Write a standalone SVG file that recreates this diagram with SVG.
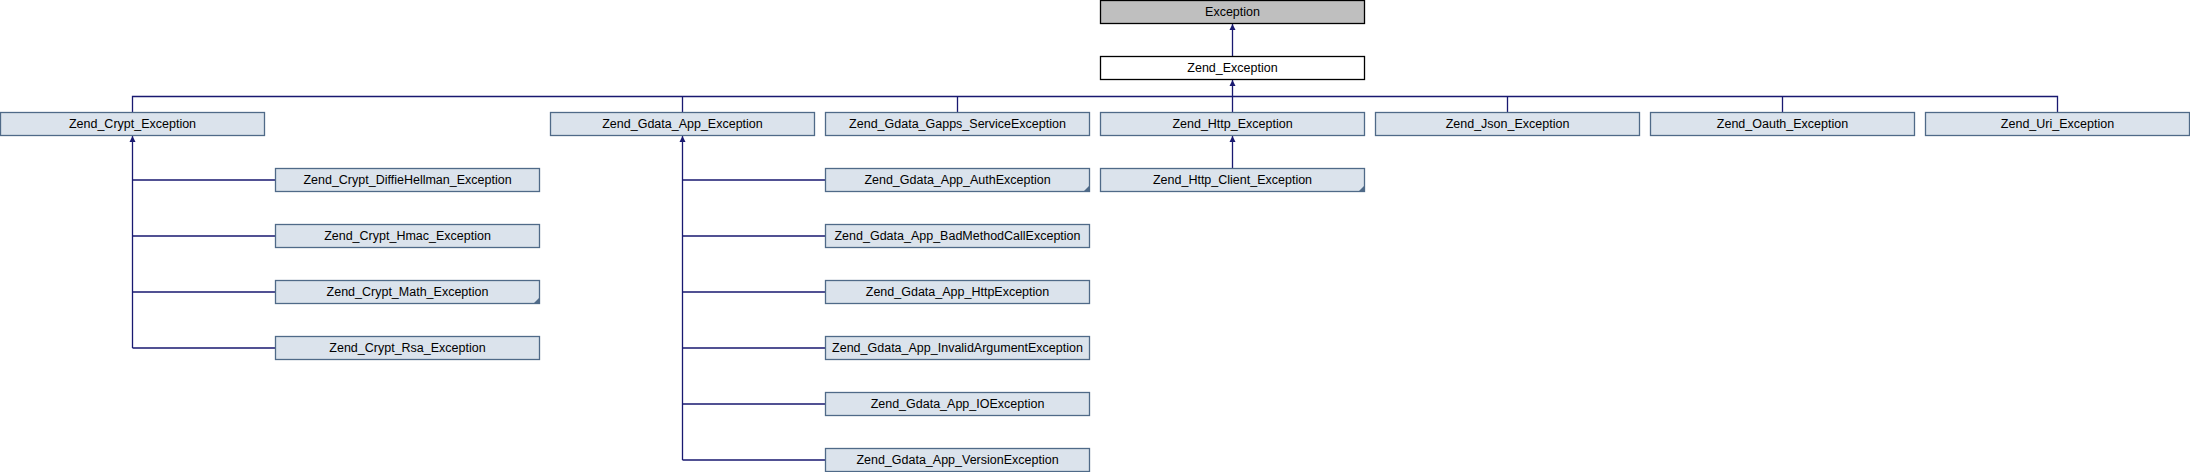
<svg xmlns="http://www.w3.org/2000/svg" width="2190" height="472" viewBox="0 0 2190 472">
<defs>
<style>
.n rect{fill:#dbe3ec;stroke:#4f6a88;stroke-width:1.3}
.n text{font-family:"Liberation Sans",Arial,sans-serif;font-size:12.5px;fill:#000;text-anchor:middle}
.n polygon{fill:#4f6a88}
#exception rect{fill:#bfbfbf;stroke:#000}
#zend_exception rect{fill:#fff;stroke:#000}
#edges path{fill:none;stroke:#191970;stroke-width:1.3}
</style>
<marker id="ah" viewBox="0 0 10 10" refX="10" refY="5" markerWidth="6" markerHeight="7" markerUnits="userSpaceOnUse" orient="auto">
<path d="M0,0 L10,5 L0,10 z" fill="#191970"/>
</marker>
</defs>
<rect width="2190" height="472" fill="#fff"/>
<g id="edges">
<path d="M1232.5,56.5 V24" marker-end="url(#ah)"/>
<path d="M1232.5,112.5 V80" marker-end="url(#ah)"/>
<path d="M132.5,112.5 V96.5 H2057.5 V112.5"/>
<path d="M682.5,96.5 V112.5 M957.5,96.5 V112.5 M1507.5,96.5 V112.5 M1782.5,96.5 V112.5"/>
<path d="M1232.5,168.5 V136" marker-end="url(#ah)"/>
<path d="M132.5,348 V136" marker-end="url(#ah)"/>
<path d="M132.5,180 H275.5 M132.5,236 H275.5 M132.5,292 H275.5 M132.5,348 H275.5"/>
<path d="M682.5,460 V136" marker-end="url(#ah)"/>
<path d="M682.5,180 H825.5 M682.5,236 H825.5 M682.5,292 H825.5 M682.5,348 H825.5 M682.5,404 H825.5 M682.5,460 H825.5"/>
</g>
<g id="exception" class="n"><rect x="1100.5" y="0.5" width="264" height="23"/><text x="1232.5" y="16">Exception</text></g>
<g id="zend_exception" class="n"><rect x="1100.5" y="56.5" width="264" height="23"/><text x="1232.5" y="72">Zend_Exception</text></g>
<g id="zend_crypt_exception" class="n"><rect x="0.5" y="112.5" width="264" height="23"/><text x="132.5" y="128">Zend_Crypt_Exception</text></g>
<g id="zend_gdata_app_exception" class="n"><rect x="550.5" y="112.5" width="264" height="23"/><text x="682.5" y="128">Zend_Gdata_App_Exception</text></g>
<g id="zend_gdata_gapps_serviceexception" class="n"><rect x="825.5" y="112.5" width="264" height="23"/><text x="957.5" y="128">Zend_Gdata_Gapps_ServiceException</text></g>
<g id="zend_http_exception" class="n"><rect x="1100.5" y="112.5" width="264" height="23"/><text x="1232.5" y="128">Zend_Http_Exception</text></g>
<g id="zend_json_exception" class="n"><rect x="1375.5" y="112.5" width="264" height="23"/><text x="1507.5" y="128">Zend_Json_Exception</text></g>
<g id="zend_oauth_exception" class="n"><rect x="1650.5" y="112.5" width="264" height="23"/><text x="1782.5" y="128">Zend_Oauth_Exception</text></g>
<g id="zend_uri_exception" class="n"><rect x="1925.5" y="112.5" width="264" height="23"/><text x="2057.5" y="128">Zend_Uri_Exception</text></g>
<g id="zend_crypt_diffiehellman_exception" class="n"><rect x="275.5" y="168.5" width="264" height="23"/><text x="407.5" y="184">Zend_Crypt_DiffieHellman_Exception</text></g>
<g id="zend_crypt_hmac_exception" class="n"><rect x="275.5" y="224.5" width="264" height="23"/><text x="407.5" y="240">Zend_Crypt_Hmac_Exception</text></g>
<g id="zend_crypt_math_exception" class="n"><rect x="275.5" y="280.5" width="264" height="23"/><text x="407.5" y="296">Zend_Crypt_Math_Exception</text><polygon points="539.5,297.5 539.5,303.5 533.5,303.5"/></g>
<g id="zend_crypt_rsa_exception" class="n"><rect x="275.5" y="336.5" width="264" height="23"/><text x="407.5" y="352">Zend_Crypt_Rsa_Exception</text></g>
<g id="zend_gdata_app_authexception" class="n"><rect x="825.5" y="168.5" width="264" height="23"/><text x="957.5" y="184">Zend_Gdata_App_AuthException</text><polygon points="1089.5,185.5 1089.5,191.5 1083.5,191.5"/></g>
<g id="zend_gdata_app_badmethodcallexception" class="n"><rect x="825.5" y="224.5" width="264" height="23"/><text x="957.5" y="240">Zend_Gdata_App_BadMethodCallException</text></g>
<g id="zend_gdata_app_httpexception" class="n"><rect x="825.5" y="280.5" width="264" height="23"/><text x="957.5" y="296">Zend_Gdata_App_HttpException</text></g>
<g id="zend_gdata_app_invalidargumentexception" class="n"><rect x="825.5" y="336.5" width="264" height="23"/><text x="957.5" y="352">Zend_Gdata_App_InvalidArgumentException</text></g>
<g id="zend_gdata_app_ioexception" class="n"><rect x="825.5" y="392.5" width="264" height="23"/><text x="957.5" y="408">Zend_Gdata_App_IOException</text></g>
<g id="zend_gdata_app_versionexception" class="n"><rect x="825.5" y="448.5" width="264" height="23"/><text x="957.5" y="464">Zend_Gdata_App_VersionException</text></g>
<g id="zend_http_client_exception" class="n"><rect x="1100.5" y="168.5" width="264" height="23"/><text x="1232.5" y="184">Zend_Http_Client_Exception</text><polygon points="1364.5,185.5 1364.5,191.5 1358.5,191.5"/></g>
</svg>
